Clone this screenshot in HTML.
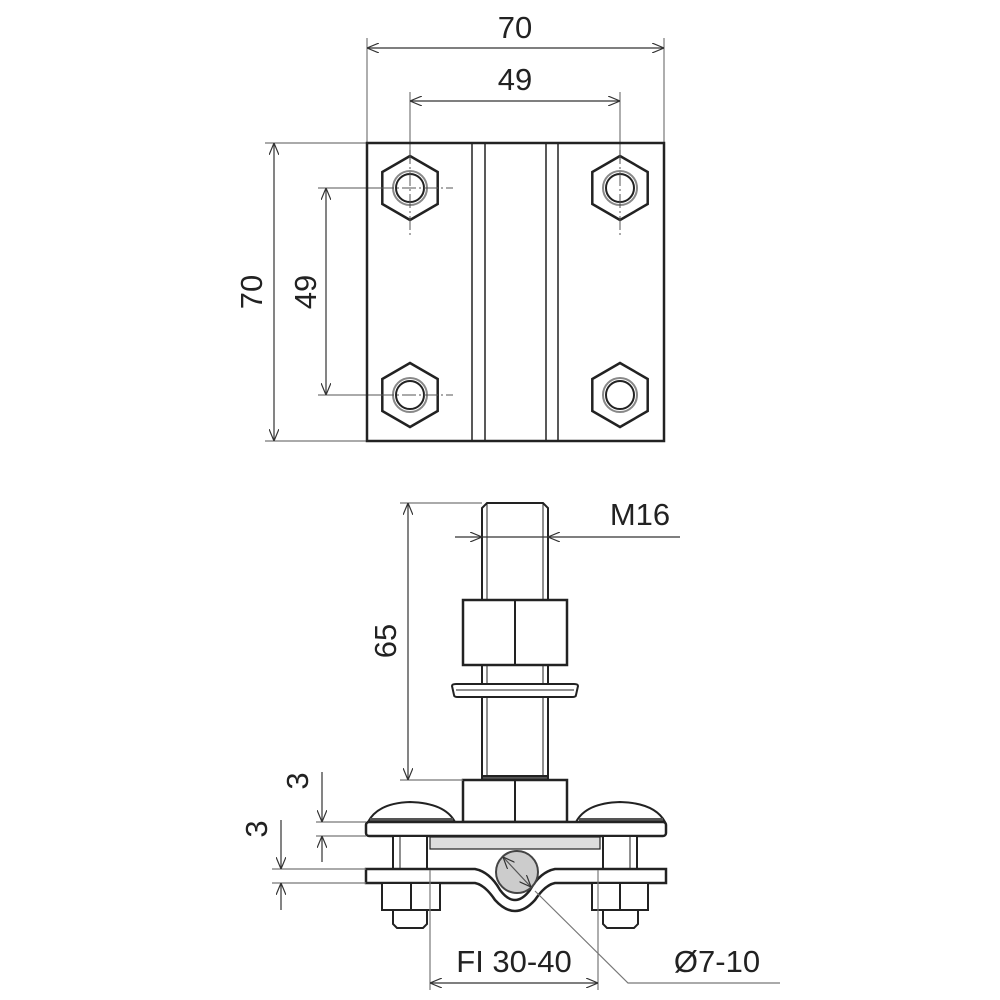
<!DOCTYPE html>
<html><head><meta charset="utf-8"><style>
html,body{margin:0;padding:0;background:#fff}
svg{display:block}
text{font-family:"Liberation Sans",sans-serif;font-size:31px;fill:#222}
</style></head><body>
<svg width="1000" height="1000" viewBox="0 0 1000 1000" xmlns="http://www.w3.org/2000/svg">
<defs>
<marker id="a" viewBox="0 0 12 10" refX="12" refY="5" markerWidth="12" markerHeight="10" orient="auto-start-reverse" markerUnits="userSpaceOnUse">
<path d="M0,0 L12,5 L0,10" fill="none" stroke="#333" stroke-width="1.2"/>
</marker>
</defs>
<g stroke="#777" stroke-width="1.2" fill="none">
<!-- top dims -->
<line x1="367" y1="38" x2="367" y2="143"/><line x1="664" y1="38" x2="664" y2="143"/>
<line x1="367" y1="48" x2="664" y2="48" marker-start="url(#a)" marker-end="url(#a)" stroke="#333"/>
<line x1="410" y1="92" x2="410" y2="160"/><line x1="620" y1="92" x2="620" y2="160"/>
<line x1="410" y1="101" x2="620" y2="101" marker-start="url(#a)" marker-end="url(#a)" stroke="#333"/>
<line x1="265" y1="143" x2="367" y2="143"/><line x1="265" y1="441" x2="367" y2="441"/>
<line x1="274" y1="143" x2="274" y2="441" marker-start="url(#a)" marker-end="url(#a)" stroke="#333"/>
<line x1="318" y1="188" x2="380" y2="188"/><line x1="318" y1="395" x2="380" y2="395"/>
<line x1="326" y1="188" x2="326" y2="395" marker-start="url(#a)" marker-end="url(#a)" stroke="#333"/>
</g>
<text x="515" y="38" text-anchor="middle">70</text>
<text x="515" y="90" text-anchor="middle">49</text>
<text transform="translate(262,292) rotate(-90)" text-anchor="middle">70</text>
<text transform="translate(316,292) rotate(-90)" text-anchor="middle">49</text>
<!-- top plate -->
<g stroke="#222" fill="none">
<rect x="367" y="143" width="297" height="298" stroke-width="2.5"/>
<g stroke-width="1.5"><line x1="472" y1="143" x2="472" y2="441"/><line x1="485" y1="143" x2="485" y2="441"/>
<line x1="546" y1="143" x2="546" y2="441"/><line x1="558" y1="143" x2="558" y2="441"/></g>
<g id="n1">
<polygon points="410,156 437.7,172 437.7,204 410,220 382.3,204 382.3,172" stroke-width="2.5"/>
<circle cx="410" cy="188" r="17" stroke="#888" stroke-width="2"/>
<circle cx="410" cy="188" r="14" stroke-width="2"/>
</g>
<use href="#n1" x="210"/><use href="#n1" y="207"/><use href="#n1" x="210" y="207"/>
<g stroke="#555" stroke-width="1" stroke-dasharray="14,3,2,3">
<line x1="380" y1="188" x2="453" y2="188"/><line x1="380" y1="395" x2="453" y2="395"/>
<line x1="410" y1="150" x2="410" y2="235"/><line x1="620" y1="150" x2="620" y2="235"/>
</g>
</g>
<!-- bolt -->
<g stroke="#222" stroke-width="2" fill="#fff">
<path d="M482,600 L482,508 L487,503 L543,503 L548,508 L548,600"/>
<line x1="487" y1="503" x2="487" y2="600" stroke-width="1"/><line x1="543" y1="503" x2="543" y2="600" stroke-width="1"/>
<rect x="482" y="665" width="66" height="115"/>
<line x1="487" y1="665" x2="487" y2="780" stroke-width="1"/><line x1="543" y1="665" x2="543" y2="780" stroke-width="1"/>
<rect x="463" y="600" width="104" height="65" stroke-width="2.5"/>
<line x1="515" y1="600" x2="515" y2="665"/>
<path d="M452,686 Q452,684 456,684 L574,684 Q578,684 578,686 L576,695 Q576,697 572,697 L458,697 Q454,697 454,695 Z"/>
<line x1="456" y1="690" x2="574" y2="690" stroke-width="1"/>
<rect x="482" y="776" width="66" height="5" fill="#555"/>
<rect x="463" y="780" width="104" height="42" stroke-width="2.5"/>
<line x1="515" y1="780" x2="515" y2="822"/>
<!-- domes -->
<path d="M368,822 Q378,803 410,802 Q445,803 455,822 Z"/>
<path d="M576,822 Q586,803 620,802 Q655,803 665,822 Z"/>
<rect x="370" y="818" width="83" height="4" fill="#555" stroke="none"/>
<rect x="579" y="818" width="84" height="4" fill="#555" stroke="none"/>
<rect x="366" y="822" width="300" height="14" rx="3" stroke-width="2.5"/>
<rect x="430" y="837" width="170" height="12" fill="#ddd" stroke-width="1.2"/>
<rect x="393" y="836" width="34" height="33"/><line x1="400" y1="836" x2="400" y2="869" stroke-width="1"/>
<rect x="603" y="836" width="34" height="33"/><line x1="630" y1="836" x2="630" y2="869" stroke-width="1"/>
<path d="M366,869 L475,869 Q490,872 500,890 Q515,910 530,890 Q540,872 555,869 L666,869 L666,883 L555,883 Q545,885 535,900 Q515,922 495,900 Q485,885 475,883 L366,883 Z" stroke-width="2.5"/>
<circle cx="517" cy="872" r="21" fill="#ccc" stroke="#444"/>
<rect x="382" y="883" width="58" height="27"/><line x1="411" y1="883" x2="411" y2="910"/>
<rect x="592" y="883" width="56" height="27"/><line x1="620" y1="883" x2="620" y2="910"/>
<path d="M393,910 L427,910 L427,924 L423,928 L397,928 L393,924 Z"/>
<path d="M603,910 L638,910 L638,924 L634,928 L607,928 L603,924 Z"/>
</g>
<!-- bottom dims -->
<g stroke="#777" stroke-width="1.2" fill="none">
<line x1="400" y1="503" x2="482" y2="503"/><line x1="400" y1="780" x2="463" y2="780"/>
<line x1="408" y1="503" x2="408" y2="780" marker-start="url(#a)" marker-end="url(#a)" stroke="#333"/>
<line x1="455" y1="537" x2="482" y2="537" marker-end="url(#a)" stroke="#333"/>
<line x1="680" y1="537" x2="548" y2="537" marker-end="url(#a)" stroke="#333"/>
<line x1="482" y1="537" x2="548" y2="537" stroke="#333"/>
<line x1="316" y1="822" x2="366" y2="822"/><line x1="316" y1="836" x2="366" y2="836"/>
<line x1="322" y1="772" x2="322" y2="822" marker-end="url(#a)" stroke="#333"/>
<line x1="322" y1="862" x2="322" y2="836" marker-end="url(#a)" stroke="#333"/>
<line x1="272" y1="869" x2="366" y2="869"/><line x1="272" y1="883" x2="366" y2="883"/>
<line x1="281" y1="820" x2="281" y2="869" marker-end="url(#a)" stroke="#333"/>
<line x1="281" y1="910" x2="281" y2="883" marker-end="url(#a)" stroke="#333"/>
<line x1="430" y1="870" x2="430" y2="990"/><line x1="598" y1="870" x2="598" y2="990"/>
<line x1="430" y1="983" x2="598" y2="983" marker-start="url(#a)" marker-end="url(#a)" stroke="#333"/>
<line x1="503" y1="857" x2="531" y2="887" marker-start="url(#a)" marker-end="url(#a)" stroke="#555"/>
<polyline points="535,891 628,983 780,983"/>
</g>
<text x="640" y="525" text-anchor="middle">M16</text>
<text transform="translate(396,641) rotate(-90)" text-anchor="middle">65</text>
<text transform="translate(308,781) rotate(-90)" text-anchor="middle">3</text>
<text transform="translate(267,829) rotate(-90)" text-anchor="middle">3</text>
<text x="514" y="972" text-anchor="middle">FI 30-40</text>
<text x="717" y="972" text-anchor="middle">Ø7-10</text>
</svg>
</body></html>
